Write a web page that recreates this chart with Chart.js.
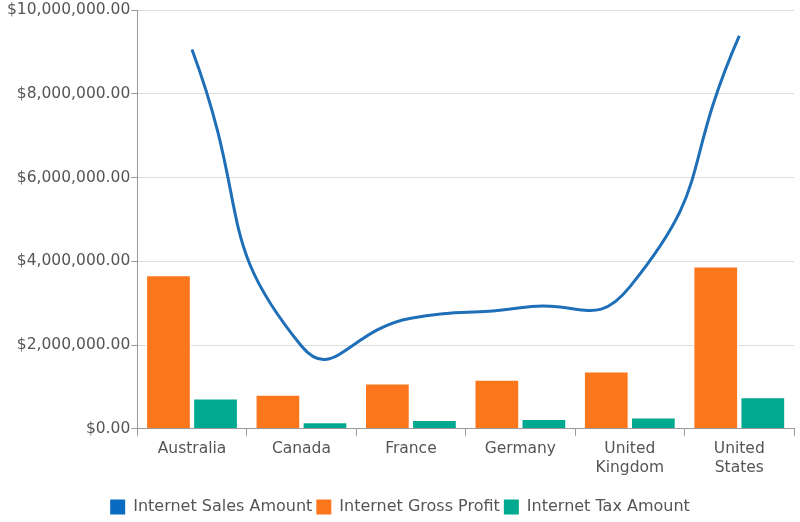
<!DOCTYPE html>
<html>
<head>
<meta charset="utf-8">
<script src="https://cdn.jsdelivr.net/npm/chart.js@4"></script>
<style>
  html, body { margin: 0; padding: 0; background: #fff; }
  #wrap { width: 800px; height: 522px; }
</style>
</head>
<body>
<div id="wrap"><canvas id="chart" width="800" height="522"></canvas></div>
<script>
// data
const countries = ['Australia', 'Canada', 'France', 'Germany', ['United', 'Kingdom'], ['United', 'States']];
const salesAmount = [9061000, 1977845, 2644018, 2894312, 3391712, 9389790];
const grossProfit = [3670000, 815000, 1080000, 1170000, 1370000, 3880000];
const taxAmount = [724880, 158228, 211521, 231545, 271337, 751183];

const textColor = '#555';
const axisFont = { family: '"DejaVu Sans", sans-serif', size: 15.5 };
const legendFont = { family: '"DejaVu Sans", sans-serif', size: 16 };

const money = v => '$' + Number(v).toLocaleString('en-US', { minimumFractionDigits: 2, maximumFractionDigits: 2 });

new Chart(document.getElementById('chart'), {
    type: 'bar',
    data: {
        labels: countries,
        datasets: [
            {
                type: 'line',
                label: 'Internet Sales Amount',
                data: salesAmount,
                borderColor: '#1f6fb8',
                backgroundColor: '#1f6fb8',
                borderWidth: 3,
                pointRadius: 0,
                tension: 0.55,
                fill: false,
                order: 0
            },
            {
                label: 'Internet Gross Profit',
                data: grossProfit,
                backgroundColor: '#fc761c',
                borderColor: '#ffffff',
                borderWidth: 1,
                order: 1
            },
            {
                label: 'Internet Tax Amount',
                data: taxAmount,
                backgroundColor: '#00aa90',
                borderColor: '#ffffff',
                borderWidth: 1,
                order: 1
            }
        ]
    },
    options: {
        responsive: false,
        animation: false,
        layout: { padding: { top: 2, right: 6, left: 6, bottom: -3 } },
        datasets: {
            bar: { categoryPercentage: 0.86, barPercentage: 0.95 }
        },
        plugins: {
            tooltip: { enabled: false },
            legend: {
                position: 'bottom',
                labels: {
                    color: textColor,
                    font: legendFont,
                    boxWidth: 15,
                    boxHeight: 15,
                    padding: 4,
                    generateLabels: chart => chart.data.datasets.map((ds, i) => ({
                        text: ds.label,
                        fillStyle: ds.type === 'line' ? '#0a6cc0' : ds.backgroundColor,
                        strokeStyle: 'transparent',
                        lineWidth: 0,
                        fontColor: textColor,
                        datasetIndex: i
                    }))
                }
            }
        },
        scales: {
            x: {
                grid: {
                    drawOnChartArea: false,
                    drawTicks: true,
                    tickLength: 7,
                    tickColor: '#999',
                    offset: true
                },
                border: { color: '#999', width: 1 },
                ticks: { color: textColor, font: axisFont, padding: 4, maxRotation: 0 },
                // leave room between the labels and the legend
                afterFit: scale => { scale.height += 14; }
            },
            y: {
                min: 0,
                max: 10000000,
                ticks: {
                    stepSize: 2000000,
                    color: textColor,
                    font: axisFont,
                    padding: 1,
                    callback: v => money(v)
                },
                grid: { color: '#dddddd', tickLength: 6, tickColor: '#999' },
                border: { color: '#999', width: 1 }
            }
        }
    }
});
</script>
</body>
</html>
